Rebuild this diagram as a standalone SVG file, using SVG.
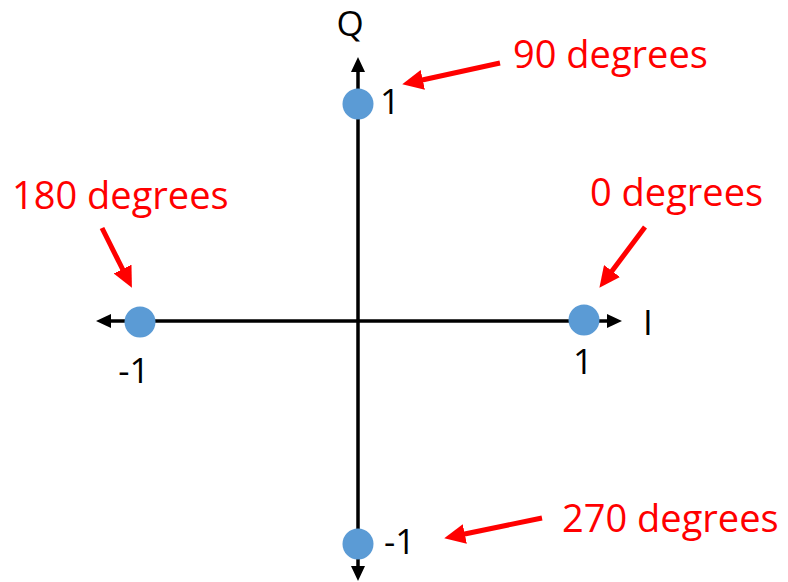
<svg xmlns="http://www.w3.org/2000/svg" width="788" height="582" viewBox="0 0 788 582">
<style>
.axis{stroke:#000;stroke-width:3.5;fill:none}
.ptr{stroke:#FF0000;stroke-width:5;fill:none}
.dot{fill:#5B9BD5}
.lbl{font-family:"Open Sans","Liberation Sans",sans-serif;font-size:35px;fill:#000}
.red{font-family:"Open Sans","Liberation Sans",sans-serif;font-size:38px;fill:#FF0000}
</style>
<defs>
<marker id="ah" markerUnits="userSpaceOnUse" markerWidth="16" markerHeight="14" refX="7" refY="7" orient="auto-start-reverse" viewBox="0 0 16 14">
<path d="M0,0 L15,7 L0,14 z" fill="#000"/>
</marker>
<marker id="rh" markerUnits="userSpaceOnUse" markerWidth="22" markerHeight="20" refX="10" refY="10" orient="auto" viewBox="0 0 22 20">
<path d="M0,0 L21,10 L0,20 z" fill="#FF0000"/>
</marker>
</defs>
<g id="connectors">
<line class="axis" x1="358" y1="65" x2="358" y2="573" marker-start="url(#ah)" marker-end="url(#ah)"/>
<line class="axis" x1="104" y1="321" x2="614" y2="321" marker-start="url(#ah)" marker-end="url(#ah)"/>
<line class="ptr" x1="500" y1="63" x2="413" y2="82" marker-end="url(#rh)"/>
<line class="ptr" x1="102" y1="228" x2="127" y2="278" marker-end="url(#rh)"/>
<line class="ptr" x1="645" y1="227" x2="606" y2="279" marker-end="url(#rh)"/>
<line class="ptr" x1="542" y1="518" x2="455" y2="536" marker-end="url(#rh)"/>
</g>
<g id="axis-labels">
<text class="lbl" x="350" y="36" text-anchor="middle" font-size="29">Q</text>
<text class="lbl" x="643" y="335">I</text>
</g>
<g id="point-90">
<circle class="dot" cx="358" cy="104" r="15.5"/>
<text class="lbl" x="380" y="114">1</text>
</g>
<g id="point-0">
<circle class="dot" cx="584" cy="320" r="15.5"/>
<text class="lbl" x="583" y="374" text-anchor="middle">1</text>
</g>
<g id="point-180">
<circle class="dot" cx="140" cy="322" r="15.5"/>
<text class="lbl" x="134" y="383" text-anchor="middle">-1</text>
</g>
<g id="point-270">
<circle class="dot" cx="358" cy="544" r="15.5"/>
<text class="lbl" x="384" y="554">-1</text>
</g>
<g id="label-90"><text class="red" x="513" y="68">90 degrees</text></g>
<g id="label-180"><text class="red" x="12" y="209">180 degrees</text></g>
<g id="label-0"><text class="red" x="590" y="206">0 degrees</text></g>
<g id="label-270"><text class="red" x="562" y="532">270 degrees</text></g>
</svg>
